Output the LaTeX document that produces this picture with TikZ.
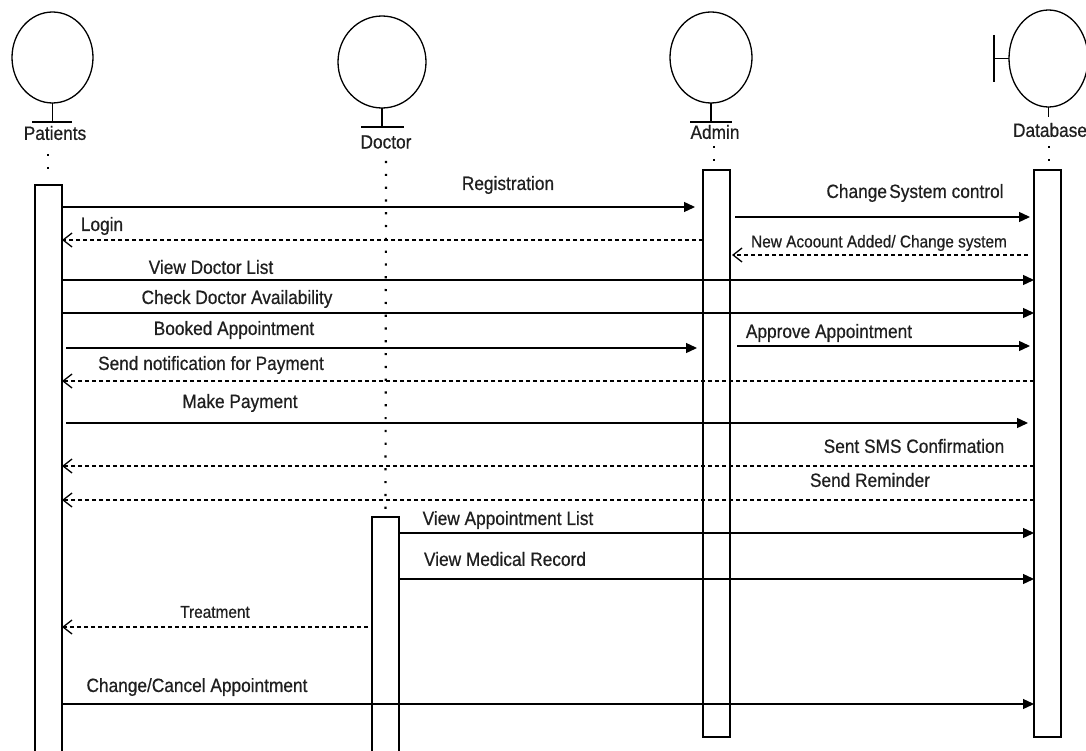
\documentclass[tikz,border=0pt]{standalone}
\usepackage{fontspec}
\setmainfont{Liberation Sans}[FakeStretch=0.9, FakeBold=0.6]
\usetikzlibrary{arrows.meta,shapes.geometric}
\begin{document}
\begin{tikzpicture}[x=1pt,y=-1pt,
  line width=1.3pt,
  head/.style={draw, ellipse, inner sep=0pt, outer sep=0pt, line width=1.3pt},
  actbox/.style={draw, fill=white, inner sep=0pt, outer sep=0pt, minimum width=27pt, anchor=north, line width=1.2pt},
  lbl/.style={font=\fontsize{19.2}{22}\selectfont, inner sep=0pt, text=black!88},
  slbl/.style={font=\fontsize{17.1}{20}\selectfont, inner sep=0pt, text=black!88},
  msg/.style={-{Triangle[length=11pt,width=10pt]}},
  ret/.style={dash pattern=on 4pt off 3pt, -{Straight Barb[length=9pt,width=14pt]}},
  life/.style={line width=2.2pt, dash pattern=on 2.2pt off 10.6pt},
]
\useasboundingbox (0,0) rectangle (1086,751);

% actor heads
\node[head, minimum width=81pt, minimum height=91pt] (ph) at (52.5,57.5) {};
\node[head, minimum width=88pt, minimum height=92pt] (dh) at (382,62) {};
\node[head, minimum width=82pt, minimum height=91pt] (ah) at (711,57.5) {};
\node[head, minimum width=79pt, minimum height=97pt] (bh) at (1048.5,58.5) {};

% stems and bars
\draw (ph.south) -- ++(0,19) coordinate (pst);
\draw (32,122) -- (72,122);
\draw (dh.south) -- ++(0,19) coordinate (dst);
\draw (361,127) -- (404,127);
\draw (ah.south) -- ++(0,19) coordinate (ast);
\draw (690,122) -- (732,122);
\draw (bh.south) -- ++(0,10) coordinate (bst);
\draw (994,35) -- (994,82);
\draw (994,58.5) -- (bh.west);

% actor labels
\node[lbl] (pl) at (55,133) {Patients};
\node[lbl] (dl) at (386,142) {Doctor};
\node[lbl] (al) at (715,132) {Admin};
\node[lbl] (bl) at (1050,130) {Database};

% activation boxes
\node[actbox, minimum height=580pt] (pb) at (48.5,185) {};
\node[actbox, minimum height=250pt] (docb) at (385.5,517) {};
\node[actbox, minimum height=567pt] (admb) at (716.5,170) {};
\node[actbox, minimum height=567pt] (datb) at (1047.5,170) {};

% lifelines
\draw[life] (48,154) -- (48,170);
\draw[life] (386,161) -- (docb.north);
\draw[life] (714,146) -- (714,162);
\draw[life] (1049,146) -- (1049,162);

% messages
\draw[msg, shorten >=8pt] (pb.east |- 0,207) -- (admb.west |- 0,207);
\draw[ret] (admb.west |- 0,240) -- (pb.east |- 0,240);
\draw[msg, shorten <=5pt, shorten >=4pt] (admb.east |- 0,217) -- (datb.west |- 0,217);
\draw[ret, shorten <=6pt, shorten >=2pt] (datb.west |- 0,255) -- (admb.east |- 0,255);
\draw[msg] (pb.east |- 0,280) -- (datb.west |- 0,280);
\draw[msg] (pb.east |- 0,313) -- (datb.west |- 0,313);
\draw[msg, shorten <=4pt, shorten >=6pt] (pb.east |- 0,348) -- (admb.west |- 0,348);
\draw[msg, shorten <=7pt, shorten >=4pt] (admb.east |- 0,346) -- (datb.west |- 0,346);
\draw[ret] (datb.west |- 0,381) -- (pb.east |- 0,381);
\draw[msg, shorten <=4pt, shorten >=6pt] (pb.east |- 0,423) -- (datb.west |- 0,423);
\draw[ret] (datb.west |- 0,466) -- (pb.east |- 0,466);
\draw[ret] (datb.west |- 0,500) -- (pb.east |- 0,500);
\draw[msg] (docb.east |- 0,533) -- (datb.west |- 0,533);
\draw[msg] (docb.east |- 0,579) -- (datb.west |- 0,579);
\draw[ret, shorten <=4pt] (docb.west |- 0,627) -- (pb.east |- 0,627);
\draw[msg] (pb.east |- 0,704) -- (datb.west |- 0,704);

% message labels
\node[lbl] (m1) at (508,185) {Registration};
\node[lbl] (m2) at (102,226) {Login};
\node[lbl] (m3) at (915,193) {Change\hspace{0.12em}System control};
\node[slbl] (m4) at (879,243) {New Acoount Added/ Change system};
\node[lbl] (m5) at (211,267) {View Doctor List};
\node[lbl] (m6) at (237,299) {Check Doctor Availability};
\node[lbl] (m7) at (234,330) {Booked Appointment};
\node[lbl] (m8) at (829,333) {Approve Appointment};
\node[lbl] (m9) at (211,365) {Send notification for Payment};
\node[lbl] (m10) at (240,403) {Make Payment};
\node[lbl] (m11) at (914,446) {Sent SMS Confirmation};
\node[lbl] (m12) at (870,480) {Send Reminder};
\node[lbl] (m13) at (508,520) {View Appointment List};
\node[lbl] (m14) at (505,559) {View Medical Record};
\node[slbl] (m15) at (215,612) {Treatment};
\node[lbl] (m16) at (197,687) {Change/Cancel Appointment};
\end{tikzpicture}
\end{document}
